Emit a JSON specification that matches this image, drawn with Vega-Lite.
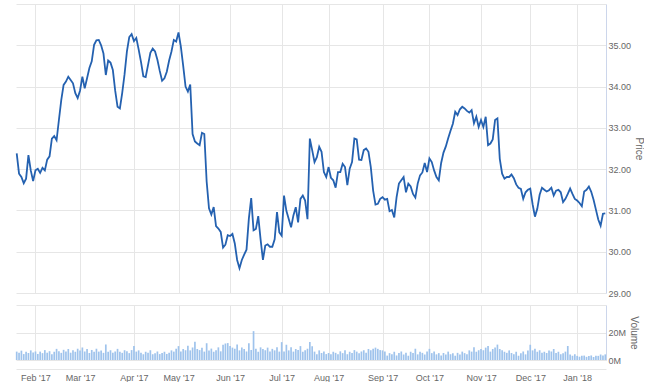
{
"$schema": "https://vega.github.io/schema/vega-lite/v6.json",
"background": "#ffffff",
"padding": {"left": 13, "top": 4, "right": 0, "bottom": 0},
"spacing": 7,
"config": {
 "font": "Liberation Sans",
 "view": {"stroke": null},
 "axis": {"labelColor": "#666666", "titleColor": "#666666", "labelFontSize": 9, "titleFontSize": 10, "titleFontWeight": "normal", "gridColor": "#e6e6e6", "gridWidth": 1, "ticks": false, "domain": false}
},
"datasets": {"stock": [
{"date":"2017-01-20","price":32.38,"volume":6100000},
{"date":"2017-01-23","price":31.89,"volume":5200000},
{"date":"2017-01-24","price":31.81,"volume":6800000},
{"date":"2017-01-25","price":31.66,"volume":4300000},
{"date":"2017-01-26","price":31.77,"volume":6000000},
{"date":"2017-01-27","price":32.34,"volume":5100000},
{"date":"2017-01-30","price":31.97,"volume":7000000},
{"date":"2017-01-31","price":31.71,"volume":5400000},
{"date":"2017-02-01","price":31.97,"volume":6200000},
{"date":"2017-02-02","price":32.01,"volume":4400000},
{"date":"2017-02-03","price":31.91,"volume":6100000},
{"date":"2017-02-06","price":32.03,"volume":5000000},
{"date":"2017-02-07","price":31.97,"volume":7200000},
{"date":"2017-02-08","price":32.23,"volume":5300000},
{"date":"2017-02-09","price":32.31,"volume":6400000},
{"date":"2017-02-10","price":32.74,"volume":4200000},
{"date":"2017-02-13","price":32.80,"volume":6000000},
{"date":"2017-02-14","price":32.70,"volume":8100000},
{"date":"2017-02-15","price":33.19,"volume":6300000},
{"date":"2017-02-16","price":33.67,"volume":5200000},
{"date":"2017-02-17","price":34.04,"volume":7400000},
{"date":"2017-02-21","price":34.12,"volume":6100000},
{"date":"2017-02-22","price":34.24,"volume":8000000},
{"date":"2017-02-23","price":34.16,"volume":5300000},
{"date":"2017-02-24","price":34.08,"volume":7100000},
{"date":"2017-02-27","price":33.84,"volume":6000000},
{"date":"2017-02-28","price":33.72,"volume":8200000},
{"date":"2017-03-01","price":33.90,"volume":7000000},
{"date":"2017-03-02","price":34.24,"volume":9100000},
{"date":"2017-03-03","price":33.96,"volume":6200000},
{"date":"2017-03-06","price":34.20,"volume":8000000},
{"date":"2017-03-07","price":34.45,"volume":5100000},
{"date":"2017-03-08","price":34.61,"volume":7300000},
{"date":"2017-03-09","price":35.01,"volume":6000000},
{"date":"2017-03-10","price":35.12,"volume":8200000},
{"date":"2017-03-13","price":35.13,"volume":6100000},
{"date":"2017-03-14","price":35.00,"volume":7000000},
{"date":"2017-03-15","price":34.80,"volume":5200000},
{"date":"2017-03-16","price":34.28,"volume":11300000},
{"date":"2017-03-17","price":34.63,"volume":6000000},
{"date":"2017-03-20","price":34.58,"volume":7100000},
{"date":"2017-03-21","price":34.40,"volume":5300000},
{"date":"2017-03-22","price":33.90,"volume":6200000},
{"date":"2017-03-23","price":33.51,"volume":8100000},
{"date":"2017-03-24","price":33.47,"volume":6000000},
{"date":"2017-03-27","price":33.85,"volume":5200000},
{"date":"2017-03-28","price":34.30,"volume":7100000},
{"date":"2017-03-29","price":34.85,"volume":6300000},
{"date":"2017-03-30","price":35.20,"volume":5000000},
{"date":"2017-03-31","price":35.27,"volume":7200000},
{"date":"2017-04-03","price":35.10,"volume":10200000},
{"date":"2017-04-04","price":35.18,"volume":6100000},
{"date":"2017-04-05","price":34.90,"volume":7000000},
{"date":"2017-04-06","price":34.60,"volume":5200000},
{"date":"2017-04-07","price":34.25,"volume":4100000},
{"date":"2017-04-10","price":34.23,"volume":6000000},
{"date":"2017-04-11","price":34.52,"volume":5300000},
{"date":"2017-04-12","price":34.82,"volume":7100000},
{"date":"2017-04-13","price":34.92,"volume":4200000},
{"date":"2017-04-17","price":34.85,"volume":5000000},
{"date":"2017-04-18","price":34.65,"volume":6200000},
{"date":"2017-04-19","price":34.38,"volume":4300000},
{"date":"2017-04-20","price":34.14,"volume":5100000},
{"date":"2017-04-21","price":34.20,"volume":6000000},
{"date":"2017-04-24","price":34.36,"volume":4400000},
{"date":"2017-04-25","price":34.63,"volume":5200000},
{"date":"2017-04-26","price":34.85,"volume":7000000},
{"date":"2017-04-27","price":35.13,"volume":6100000},
{"date":"2017-04-28","price":35.09,"volume":8200000},
{"date":"2017-05-01","price":35.31,"volume":10100000},
{"date":"2017-05-02","price":34.97,"volume":6200000},
{"date":"2017-05-03","price":34.50,"volume":8000000},
{"date":"2017-05-04","price":34.00,"volume":7100000},
{"date":"2017-05-05","price":33.88,"volume":10300000},
{"date":"2017-05-08","price":34.05,"volume":7000000},
{"date":"2017-05-09","price":32.85,"volume":9100000},
{"date":"2017-05-10","price":32.67,"volume":13200000},
{"date":"2017-05-11","price":32.62,"volume":8000000},
{"date":"2017-05-12","price":32.58,"volume":7200000},
{"date":"2017-05-15","price":32.88,"volume":9000000},
{"date":"2017-05-16","price":32.85,"volume":6100000},
{"date":"2017-05-17","price":31.70,"volume":12200000},
{"date":"2017-05-18","price":31.05,"volume":7000000},
{"date":"2017-05-19","price":30.90,"volume":8300000},
{"date":"2017-05-22","price":31.08,"volume":6000000},
{"date":"2017-05-23","price":30.62,"volume":7100000},
{"date":"2017-05-24","price":30.56,"volume":9200000},
{"date":"2017-05-25","price":30.48,"volume":6300000},
{"date":"2017-05-26","price":30.10,"volume":11100000},
{"date":"2017-05-30","price":30.17,"volume":12000000},
{"date":"2017-05-31","price":30.40,"volume":12300000},
{"date":"2017-06-01","price":30.38,"volume":10100000},
{"date":"2017-06-02","price":30.43,"volume":9000000},
{"date":"2017-06-05","price":30.20,"volume":8200000},
{"date":"2017-06-06","price":29.80,"volume":11200000},
{"date":"2017-06-07","price":29.60,"volume":7000000},
{"date":"2017-06-08","price":29.80,"volume":9100000},
{"date":"2017-06-09","price":29.93,"volume":8000000},
{"date":"2017-06-12","price":30.05,"volume":6200000},
{"date":"2017-06-13","price":30.80,"volume":12100000},
{"date":"2017-06-14","price":31.30,"volume":7300000},
{"date":"2017-06-15","price":30.52,"volume":21000000},
{"date":"2017-06-16","price":30.55,"volume":8100000},
{"date":"2017-06-19","price":30.86,"volume":6000000},
{"date":"2017-06-20","price":30.30,"volume":9200000},
{"date":"2017-06-21","price":29.80,"volume":8000000},
{"date":"2017-06-22","price":30.15,"volume":7100000},
{"date":"2017-06-23","price":30.18,"volume":9000000},
{"date":"2017-06-26","price":30.12,"volume":6200000},
{"date":"2017-06-27","price":30.12,"volume":8100000},
{"date":"2017-06-28","price":30.30,"volume":7000000},
{"date":"2017-06-29","price":30.96,"volume":9300000},
{"date":"2017-06-30","price":30.47,"volume":6100000},
{"date":"2017-07-03","price":30.39,"volume":13000000},
{"date":"2017-07-05","price":31.36,"volume":6200000},
{"date":"2017-07-06","price":30.99,"volume":11100000},
{"date":"2017-07-07","price":30.79,"volume":7000000},
{"date":"2017-07-10","price":30.59,"volume":9200000},
{"date":"2017-07-11","price":30.88,"volume":6100000},
{"date":"2017-07-12","price":31.08,"volume":8000000},
{"date":"2017-07-13","price":30.71,"volume":7200000},
{"date":"2017-07-14","price":31.28,"volume":10100000},
{"date":"2017-07-17","price":31.36,"volume":6000000},
{"date":"2017-07-18","price":31.24,"volume":7100000},
{"date":"2017-07-19","price":30.79,"volume":8200000},
{"date":"2017-07-20","price":32.74,"volume":13100000},
{"date":"2017-07-21","price":32.46,"volume":10000000},
{"date":"2017-07-24","price":32.17,"volume":6100000},
{"date":"2017-07-25","price":32.29,"volume":4200000},
{"date":"2017-07-26","price":32.54,"volume":7000000},
{"date":"2017-07-27","price":32.42,"volume":5100000},
{"date":"2017-07-28","price":31.93,"volume":6200000},
{"date":"2017-07-31","price":31.81,"volume":4300000},
{"date":"2017-08-01","price":32.05,"volume":5100000},
{"date":"2017-08-02","price":31.79,"volume":4200000},
{"date":"2017-08-03","price":31.73,"volume":6000000},
{"date":"2017-08-04","price":31.55,"volume":5200000},
{"date":"2017-08-07","price":31.93,"volume":4100000},
{"date":"2017-08-08","price":31.93,"volume":6300000},
{"date":"2017-08-09","price":32.13,"volume":5000000},
{"date":"2017-08-10","price":32.05,"volume":7100000},
{"date":"2017-08-11","price":31.61,"volume":4200000},
{"date":"2017-08-14","price":32.01,"volume":6000000},
{"date":"2017-08-15","price":32.17,"volume":5100000},
{"date":"2017-08-16","price":32.74,"volume":7200000},
{"date":"2017-08-17","price":32.72,"volume":6100000},
{"date":"2017-08-18","price":32.23,"volume":5000000},
{"date":"2017-08-21","price":32.22,"volume":6200000},
{"date":"2017-08-22","price":32.46,"volume":7100000},
{"date":"2017-08-23","price":32.50,"volume":5200000},
{"date":"2017-08-24","price":32.42,"volume":8000000},
{"date":"2017-08-25","price":32.05,"volume":7100000},
{"date":"2017-08-28","price":31.48,"volume":8200000},
{"date":"2017-08-29","price":31.14,"volume":9000000},
{"date":"2017-08-30","price":31.16,"volume":8100000},
{"date":"2017-08-31","price":31.28,"volume":7200000},
{"date":"2017-09-01","price":31.32,"volume":7000000},
{"date":"2017-09-05","price":31.26,"volume":6100000},
{"date":"2017-09-06","price":31.28,"volume":3200000},
{"date":"2017-09-07","price":30.98,"volume":5000000},
{"date":"2017-09-08","price":31.01,"volume":4100000},
{"date":"2017-09-11","price":30.83,"volume":6000000},
{"date":"2017-09-12","price":31.32,"volume":3300000},
{"date":"2017-09-13","price":31.65,"volume":5100000},
{"date":"2017-09-14","price":31.73,"volume":6200000},
{"date":"2017-09-15","price":31.81,"volume":4000000},
{"date":"2017-09-18","price":31.44,"volume":5200000},
{"date":"2017-09-19","price":31.65,"volume":3100000},
{"date":"2017-09-20","price":31.58,"volume":6000000},
{"date":"2017-09-21","price":31.40,"volume":5100000},
{"date":"2017-09-22","price":31.31,"volume":8200000},
{"date":"2017-09-25","price":31.65,"volume":4100000},
{"date":"2017-09-26","price":31.85,"volume":6000000},
{"date":"2017-09-27","price":31.92,"volume":5200000},
{"date":"2017-09-28","price":32.15,"volume":4000000},
{"date":"2017-09-29","price":31.93,"volume":6100000},
{"date":"2017-10-02","price":32.26,"volume":8100000},
{"date":"2017-10-03","price":32.17,"volume":5000000},
{"date":"2017-10-04","price":31.97,"volume":6200000},
{"date":"2017-10-05","price":31.81,"volume":4100000},
{"date":"2017-10-06","price":31.73,"volume":5000000},
{"date":"2017-10-09","price":32.15,"volume":3200000},
{"date":"2017-10-10","price":32.40,"volume":5100000},
{"date":"2017-10-11","price":32.55,"volume":4000000},
{"date":"2017-10-12","price":32.75,"volume":6100000},
{"date":"2017-10-13","price":32.93,"volume":4200000},
{"date":"2017-10-16","price":33.10,"volume":5000000},
{"date":"2017-10-17","price":33.39,"volume":3100000},
{"date":"2017-10-18","price":33.31,"volume":5200000},
{"date":"2017-10-19","price":33.45,"volume":4000000},
{"date":"2017-10-20","price":33.51,"volume":6100000},
{"date":"2017-10-23","price":33.47,"volume":5000000},
{"date":"2017-10-24","price":33.41,"volume":4200000},
{"date":"2017-10-25","price":33.37,"volume":7000000},
{"date":"2017-10-26","price":33.43,"volume":6100000},
{"date":"2017-10-27","price":33.11,"volume":9200000},
{"date":"2017-10-30","price":33.27,"volume":6000000},
{"date":"2017-10-31","price":33.02,"volume":7100000},
{"date":"2017-11-01","price":33.19,"volume":8000000},
{"date":"2017-11-02","price":33.02,"volume":7100000},
{"date":"2017-11-03","price":33.27,"volume":9000000},
{"date":"2017-11-06","price":32.58,"volume":10200000},
{"date":"2017-11-07","price":32.62,"volume":6100000},
{"date":"2017-11-08","price":32.72,"volume":8000000},
{"date":"2017-11-09","price":33.19,"volume":9100000},
{"date":"2017-11-10","price":33.23,"volume":11200000},
{"date":"2017-11-13","price":32.25,"volume":8000000},
{"date":"2017-11-14","price":31.89,"volume":7100000},
{"date":"2017-11-15","price":31.77,"volume":6000000},
{"date":"2017-11-16","price":31.81,"volume":5200000},
{"date":"2017-11-17","price":31.81,"volume":7000000},
{"date":"2017-11-20","price":31.87,"volume":5100000},
{"date":"2017-11-21","price":31.78,"volume":4200000},
{"date":"2017-11-22","price":31.63,"volume":6000000},
{"date":"2017-11-24","price":31.55,"volume":3100000},
{"date":"2017-11-27","price":31.52,"volume":5000000},
{"date":"2017-11-28","price":31.28,"volume":6200000},
{"date":"2017-11-29","price":31.44,"volume":4100000},
{"date":"2017-11-30","price":31.50,"volume":7000000},
{"date":"2017-12-01","price":31.53,"volume":11100000},
{"date":"2017-12-04","price":31.15,"volume":7000000},
{"date":"2017-12-05","price":30.85,"volume":8200000},
{"date":"2017-12-06","price":31.04,"volume":6000000},
{"date":"2017-12-07","price":31.38,"volume":7100000},
{"date":"2017-12-08","price":31.55,"volume":5200000},
{"date":"2017-12-11","price":31.50,"volume":6000000},
{"date":"2017-12-12","price":31.46,"volume":5100000},
{"date":"2017-12-13","price":31.49,"volume":7000000},
{"date":"2017-12-14","price":31.55,"volume":6200000},
{"date":"2017-12-15","price":31.36,"volume":8000000},
{"date":"2017-12-18","price":31.48,"volume":5100000},
{"date":"2017-12-19","price":31.50,"volume":6000000},
{"date":"2017-12-20","price":31.44,"volume":4200000},
{"date":"2017-12-21","price":31.20,"volume":5000000},
{"date":"2017-12-22","price":31.28,"volume":6100000},
{"date":"2017-12-26","price":31.40,"volume":10200000},
{"date":"2017-12-27","price":31.53,"volume":4000000},
{"date":"2017-12-28","price":31.40,"volume":3100000},
{"date":"2017-12-29","price":31.28,"volume":4200000},
{"date":"2018-01-02","price":31.24,"volume":3000000},
{"date":"2018-01-03","price":31.18,"volume":2400000},
{"date":"2018-01-04","price":31.10,"volume":3100000},
{"date":"2018-01-05","price":31.46,"volume":3200000},
{"date":"2018-01-08","price":31.50,"volume":2300000},
{"date":"2018-01-09","price":31.58,"volume":3000000},
{"date":"2018-01-10","price":31.45,"volume":3300000},
{"date":"2018-01-11","price":31.26,"volume":2200000},
{"date":"2018-01-12","price":31.02,"volume":3100000},
{"date":"2018-01-16","price":30.78,"volume":3000000},
{"date":"2018-01-17","price":30.63,"volume":4000000},
{"date":"2018-01-18","price":30.92,"volume":3200000},
{"date":"2018-01-19","price":30.93,"volume":4100000}
]},
"data": {"name": "stock"},
"vconcat": [
 {
  "width": 590,
  "height": 289,
  "mark": {"type": "line", "color": "#2461b0", "strokeWidth": 1.8},
  "encoding": {
   "x": {"field": "date", "type": "ordinal", "scale": {"type": "point", "padding": 0.3},
     "axis": {"values": ["2017-02-01","2017-03-01","2017-04-03","2017-05-01","2017-06-01","2017-07-03","2017-08-01","2017-09-01","2017-10-02","2017-11-01","2017-12-01","2018-01-02"], "labels": false, "title": null, "grid": true}},
   "y": {"field": "price", "type": "quantitative", "scale": {"domain": [29, 36], "nice": false, "zero": false},
     "axis": {"orient": "right", "values": [29,30,31,32,33,34,35,36], "labelExpr": "datum.value == 36 ? '' : format(datum.value, '.2f')", "title": "Price", "domain": true, "domainColor": "#ccd6eb", "labelPadding": 2, "titlePadding": 3}}
  }
 },
 {
  "width": 590,
  "height": 55,
  "mark": {"type": "bar", "color": "#9fc3ec", "width": 1.7},
  "encoding": {
   "x": {"field": "date", "type": "ordinal", "scale": {"type": "point", "padding": 0.3},
     "axis": {"values": ["2017-02-01","2017-03-01","2017-04-03","2017-05-01","2017-06-01","2017-07-03","2017-08-01","2017-09-01","2017-10-02","2017-11-01","2017-12-01","2018-01-02"], "labelExpr": "utcFormat(toDate(datum.value), \"%b '%y\")", "labelAngle": 0, "title": null, "grid": true, "offset": 9, "domain": true, "domainColor": "#e6e6e6", "labelPadding": 4}},
   "y": {"field": "volume", "type": "quantitative", "scale": {"domain": [0, 40000000], "nice": false},
     "axis": {"orient": "right", "values": [0, 20000000, 40000000], "labelExpr": "datum.value >= 40000000 ? '' : (datum.value / 1000000) + 'M'", "title": "Volume", "domain": true, "domainColor": "#ccd6eb", "labelPadding": 2, "titlePadding": 3}}
  }
 }
]
}
